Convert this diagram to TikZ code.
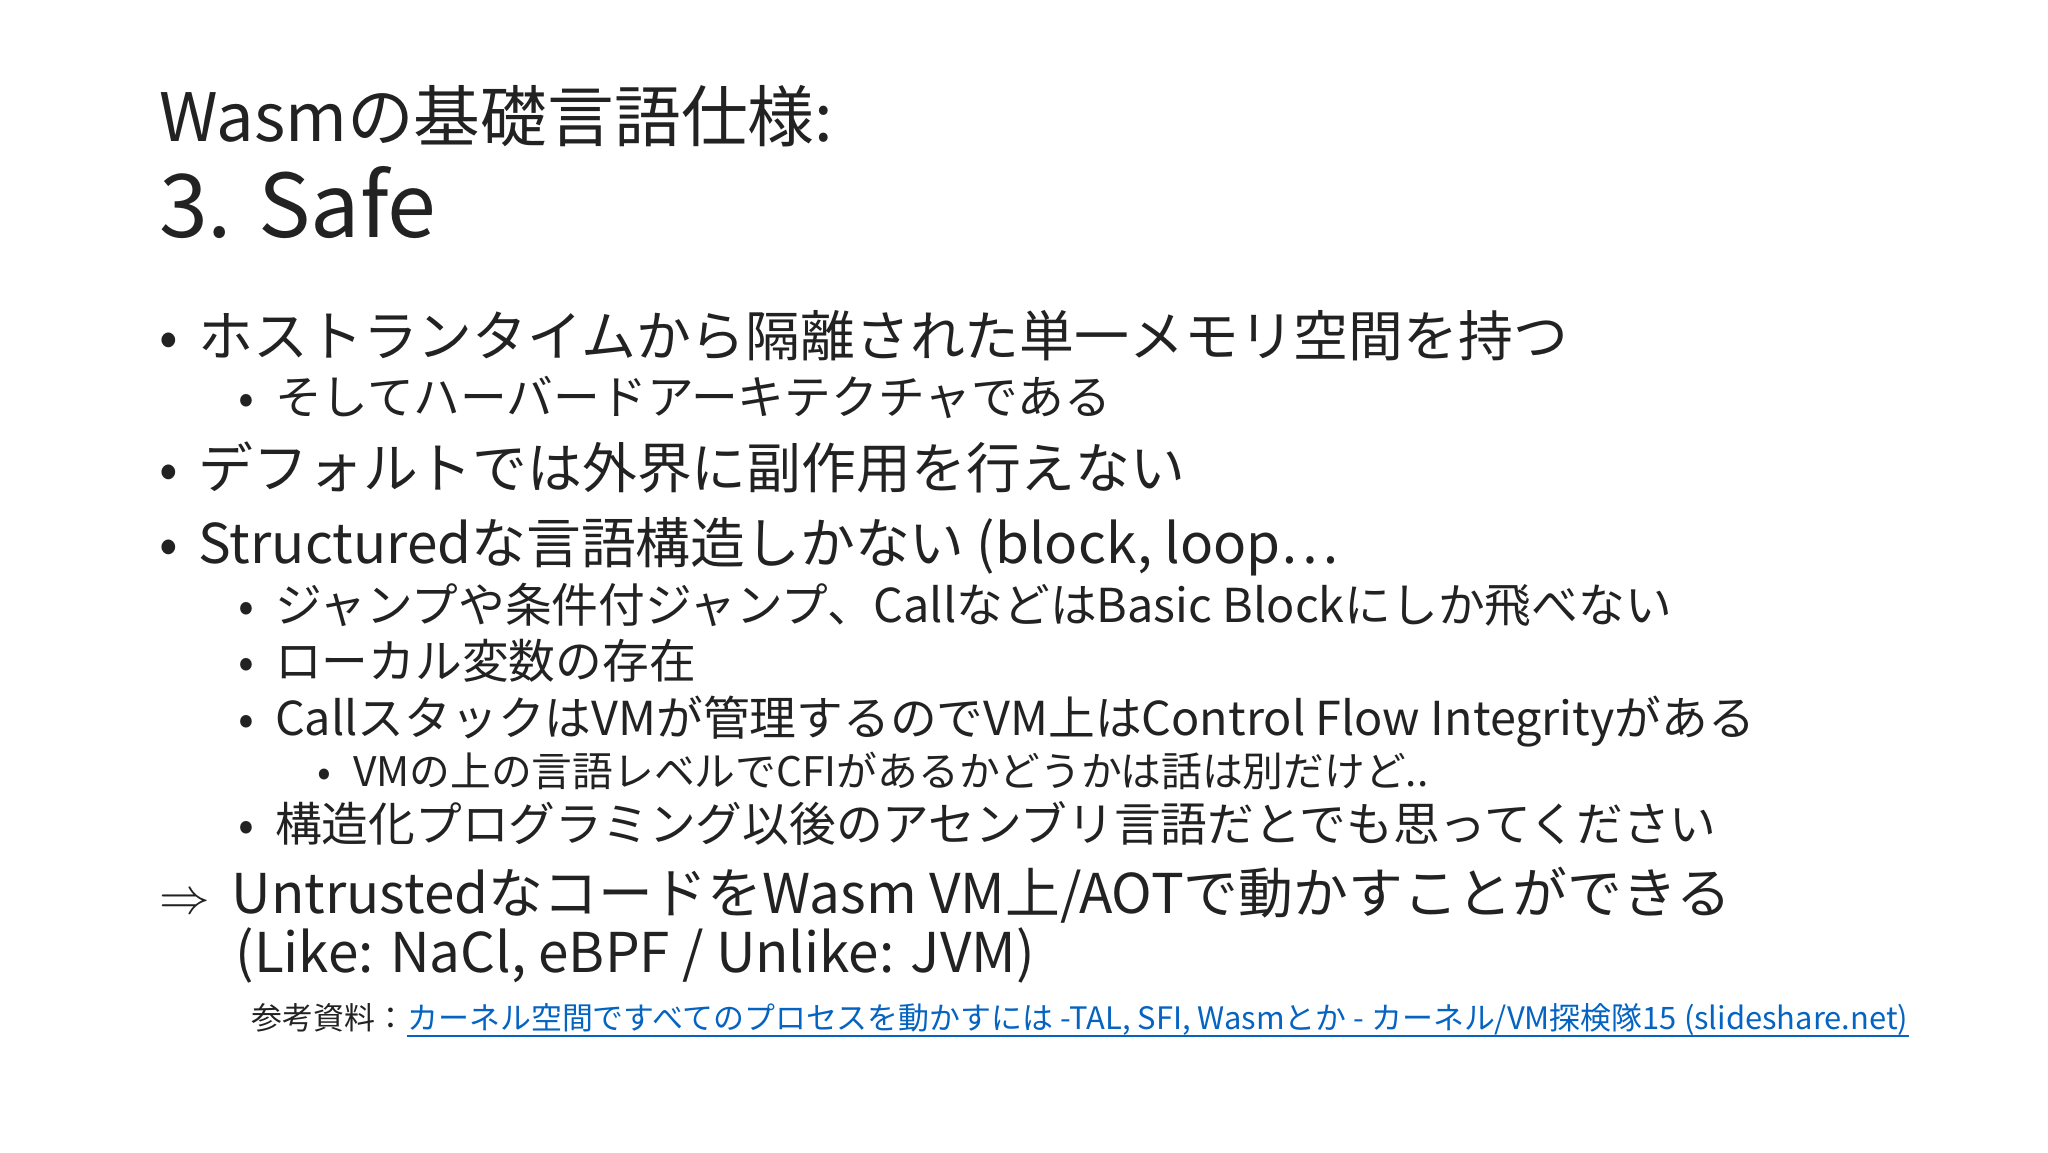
\documentclass[tikz,border=0pt]{standalone}
\usepackage{fontspec}
\setmainfont{Noto Sans CJK JP}
\definecolor{txt}{HTML}{222222}
\definecolor{lnk}{HTML}{0563C1}
\begin{document}
\begin{tikzpicture}[x=0.013196cm,y=-0.013196cm,
  t/.style={anchor=base west,inner sep=0pt,text=txt},
  l1/.style={t,font=\fontsize{15.6}{17}\selectfont},
  l2/.style={t,font=\fontsize{13.3}{15}\selectfont},
  l3/.style={t,font=\fontsize{11.6}{13}\selectfont}]
\useasboundingbox (0,0) rectangle (1552,873);
\node[t,font=\fontsize{19}{21}\selectfont] (title) at (120,107) {Wasmの基礎言語仕様:};
\node[t,font=\fontsize{25}{27}\selectfont] (sub) at (120,180) {3. Safe};
\node[l1] (b1d) at (120,270) {•}; \node[l1] (b1) at (150,270) {ホストランタイムから隔離された単一メモリ空間を持つ};
\node[l2] (b2d) at (180,314) {•}; \node[l2] (b2) at (208,314) {そしてハーバードアーキテクチャである};
\node[l1] (b3d) at (120,370) {•}; \node[l1] (b3) at (150,370) {デフォルトでは外界に副作用を行えない};
\node[l1] (b4d) at (120,427) {•}; \node[l1] (b4) at (150,427) {Structuredな言語構造しかない (block, loop…};
\node[l2] (b5d) at (180,472) {•}; \node[l2] (b5) at (208,472) {ジャンプや条件付ジャンプ、CallなどはBasic Blockにしか飛べない};
\node[l2] (b6d) at (180,514) {•}; \node[l2] (b6) at (208,514) {ローカル変数の存在};
\node[l2] (b7d) at (180,557) {•}; \node[l2] (b7) at (208,557) {CallスタックはVMが管理するのでVM上はControl Flow Integrityがある};
\node[l3] (b8d) at (240,596) {•}; \node[l3] (b8) at (267,596) {VMの上の言語レベルでCFIがあるかどうかは話は別だけど..};
\node[l2] (b9d) at (180,638) {•}; \node[l2] (b9) at (208,638) {構造化プログラミング以後のアセンブリ言語だとでも思ってください};
\node[l1] (c0) at (120,692) {$\Rightarrow$};
\node[l1] (c1) at (175,692) {UntrustedなコードをWasm VM上/AOTで動かすことができる};
\node[l1] (c2) at (178,737) {(Like: NaCl, eBPF / Unlike: JVM)};
\node[t,font=\fontsize{8.8}{10}\selectfont] (refa) at (190,780) {参考資料：};
\node[t,text=lnk,font=\fontsize{8.8}{10}\selectfont] (refb) at (refa.base east) {カーネル空間ですべてのプロセスを動かすには -TAL, SFI, Wasmとか - カーネル/VM探検隊15 (slideshare.net)};
\draw[lnk,line width=0.5pt] ([yshift=-2pt]refb.base west) -- ([yshift=-2pt]refb.base east);
\end{tikzpicture}
\end{document}
